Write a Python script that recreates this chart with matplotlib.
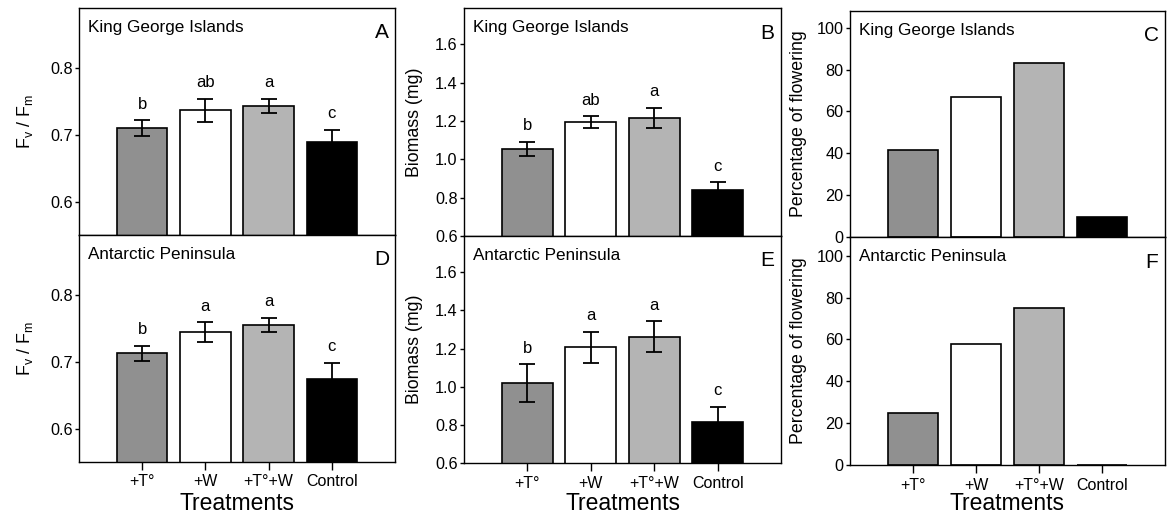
import numpy as np
import matplotlib
matplotlib.use("Agg")
import matplotlib.pyplot as plt

plt.rcParams['font.family'] = ['Liberation Sans', 'DejaVu Sans']
plt.rcParams['mathtext.default'] = 'regular'

# data
treatments = ['+T°', '+W', '+T°+W', 'Control']
bar_colors = ['#909090', '#ffffff', '#b4b4b4', '#000000']

fvfm_kgi = [0.710, 0.737, 0.743, 0.689]
fvfm_kgi_err = [0.012, 0.017, 0.011, 0.019]
fvfm_kgi_letters = ['b', 'ab', 'a', 'c']

fvfm_ap = [0.713, 0.744, 0.755, 0.675]
fvfm_ap_err = [0.011, 0.015, 0.011, 0.024]
fvfm_ap_letters = ['b', 'a', 'a', 'c']

biomass_kgi = [1.055, 1.195, 1.217, 0.840]
biomass_kgi_err = [0.037, 0.030, 0.052, 0.040]
biomass_kgi_letters = ['b', 'ab', 'a', 'c']

biomass_ap = [1.020, 1.207, 1.262, 0.813]
biomass_ap_err = [0.098, 0.082, 0.082, 0.081]
biomass_ap_letters = ['b', 'a', 'a', 'c']

flower_kgi = [41.7, 66.7, 83.3, 9.5]
flower_ap = [25.0, 58.0, 75.0, 0.0]

W, H = 1168, 523
fig = plt.figure(figsize=(W / 100, H / 100), dpi=100)


def rect(left, right, top, bottom):
    return [left / W, 1 - bottom / H, (right - left) / W, (bottom - top) / H]


def panel(pos, values, ylim, yticks, fmt, region, letter, err=None, sig=None, bottom_row=False):
    ax = fig.add_axes(rect(*pos))
    x = np.arange(len(values))
    ax.bar(x, values, width=0.8, color=bar_colors, edgecolor='black', linewidth=1.2, zorder=2)
    if err is not None:
        ax.errorbar(x, values, yerr=err, fmt='none', ecolor='black', elinewidth=1.3,
                    capsize=5.5, capthick=1.3, zorder=3)
        for xi, v, e, s in zip(x, values, err, sig):
            ax.annotate(s, (xi, v + e), xytext=(0, 11.5), textcoords='offset points',
                        ha='center', va='center', fontsize=12)
    ax.set_xlim(-1.0, 4.0)
    ax.set_ylim(*ylim)
    ax.set_yticks(yticks)
    ax.set_yticklabels([fmt.format(t) for t in yticks])
    ax.tick_params(axis='y', direction='out', length=3, width=1, pad=1.5, labelsize=11.7)
    if bottom_row:
        ax.set_xticks(x)
        ax.set_xticklabels(treatments)
        ax.tick_params(axis='x', direction='out', length=5.5, width=1, pad=3.5, labelsize=11.5)
    else:
        ax.tick_params(axis='x', bottom=False, labelbottom=False)
    for sp in ax.spines.values():
        sp.set_linewidth(1.0)
    ax.text(0.027, 0.915, region, transform=ax.transAxes, ha='left', va='center', fontsize=12.3)
    ax.text(0.958, 0.89, letter, transform=ax.transAxes, ha='center', va='center', fontsize=15)
    return ax


fv_ticks = [0.6, 0.7, 0.8]
bm_ticks = [0.6, 0.8, 1.0, 1.2, 1.4, 1.6]
pc_ticks = [0, 20, 40, 60, 80, 100]

axA = panel((79, 395, 8, 235), fvfm_kgi, (0.55, 0.89), fv_ticks, '{:.1f}',
            'King George Islands', 'A', fvfm_kgi_err, fvfm_kgi_letters)
axD = panel((79, 395, 235, 462), fvfm_ap, (0.55, 0.89), fv_ticks, '{:.1f}',
            'Antarctic Peninsula', 'D', fvfm_ap_err, fvfm_ap_letters, bottom_row=True)
axB = panel((464, 781, 8, 236), biomass_kgi, (0.6, 1.79), bm_ticks, '{:.1f}',
            'King George Islands', 'B', biomass_kgi_err, biomass_kgi_letters)
axE = panel((464, 781, 236, 463), biomass_ap, (0.6, 1.79), bm_ticks, '{:.1f}',
            'Antarctic Peninsula', 'E', biomass_ap_err, biomass_ap_letters, bottom_row=True)
axC = panel((850, 1165, 11, 237), flower_kgi, (0, 108), pc_ticks, '{:d}',
            'King George Islands', 'C')
axF = panel((850, 1165, 237, 465), flower_ap, (0, 109), pc_ticks, '{:d}',
            'Antarctic Peninsula', 'F', bottom_row=True)

fv_label = 'F$_v$ / F$_m$'
for ax in (axA, axD):
    ax.set_ylabel(fv_label, fontsize=12.8)
    ax.yaxis.set_label_coords(-0.139, 0.5)
for ax in (axB, axE):
    ax.set_ylabel('Biomass (mg)', fontsize=12.8)
    ax.yaxis.set_label_coords(-0.129, 0.5)
for ax in (axC, axF):
    ax.set_ylabel('Percentage of flowering', fontsize=12.8)
    ax.yaxis.set_label_coords(-0.137, 0.5)

# shared x label under each column
for ax in (axD, axE, axF):
    bb = ax.get_position()
    fig.text(bb.x0 + bb.width / 2, 1 - 503 / H, 'Treatments', ha='center', va='center', fontsize=16.5)

fig.savefig('out.png', dpi=100)
